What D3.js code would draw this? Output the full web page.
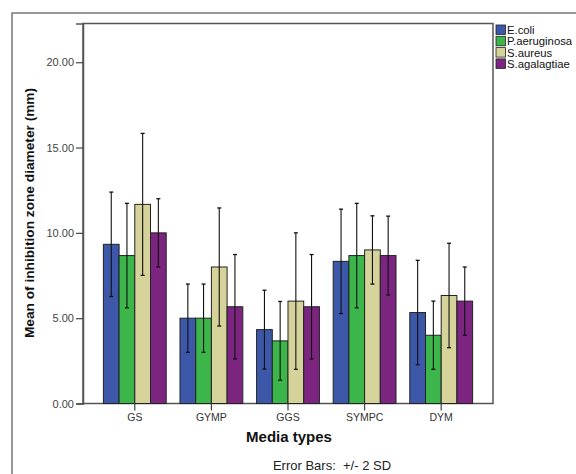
<!DOCTYPE html>
<html>
<head>
<meta charset="utf-8">
<script src="https://cdn.jsdelivr.net/npm/d3@7"></script>
<style>
html,body{margin:0;padding:0;background:#fff;}
svg{display:block;font-family:"Liberation Sans",Arial,sans-serif;}
</style>
</head>
<body>
<svg id="chart" width="576" height="474"></svg>
<script>
const categories = ["GS", "GYMP", "GGS", "SYMPC", "DYM"];
const seriesNames = ["E.coli", "P.aeruginosa", "S.aureus", "S.agalagtiae"];
const seriesColors = ["#3d58a9", "#3cb54a", "#d5d39a", "#7b2580"];
// means per series (in category order)
const ecoli = [9.33, 5.00, 4.33, 8.33, 5.33];
const paeruginosa = [8.67, 5.00, 3.67, 8.67, 4.00];
const saureus = [11.67, 8.00, 6.00, 9.00, 6.33];
const sagalagtiae = [10.00, 5.67, 5.67, 8.67, 6.00];
// 2 SD half-widths of error bars
const ecoli2sd = [3.06, 2.00, 2.31, 3.06, 3.06];
const paeruginosa2sd = [3.06, 2.00, 2.31, 3.06, 2.00];
const saureus2sd = [4.16, 3.46, 4.00, 2.00, 3.06];
const sagalagtiae2sd = [2.00, 3.06, 3.06, 2.31, 2.00];
const yTicks = [0, 5, 10, 15, 20];

const means = [ecoli, paeruginosa, saureus, sagalagtiae];
const errs = [ecoli2sd, paeruginosa2sd, saureus2sd, sagalagtiae2sd];

const svg = d3.select("#chart");
const plot = {left: 83, right: 493, top: 23.5, bottom: 403.5};

// outer frame
svg.append("rect").attr("x", 12).attr("y", 13).attr("width", 600).attr("height", 500)
  .attr("fill", "none").attr("stroke", "#777").attr("stroke-width", 1.5);

const y = d3.scaleLinear().domain([0, 22.27]).range([plot.bottom, plot.top]);
const x0 = d3.scaleBand().domain(categories).range([96.5, 479.5]).paddingInner(0.18).paddingOuter(0.09);
const x1 = d3.scaleBand().domain(seriesNames).range([0, x0.bandwidth()]);

// plot frame
svg.append("rect").attr("x", plot.left).attr("y", plot.top)
  .attr("width", plot.right - plot.left).attr("height", plot.bottom - plot.top)
  .attr("fill", "#fff").attr("stroke", "#555").attr("stroke-width", 1.5);

const rows = [];
categories.forEach((c, ci) => {
  seriesNames.forEach((s, si) => {
    rows.push({cat: c, ser: s, si: si, v: means[si][ci], e: errs[si][ci]});
  });
});

const g = svg.append("g");
g.selectAll("rect.bar").data(rows).enter().append("rect")
  .attr("class", "bar")
  .attr("x", d => x0(d.cat) + x1(d.ser))
  .attr("y", d => y(d.v))
  .attr("width", x1.bandwidth())
  .attr("height", d => y(0) - y(d.v))
  .attr("fill", d => seriesColors[d.si])
  .attr("stroke", "#222").attr("stroke-width", 1);

// error bars
const eb = g.selectAll("g.err").data(rows).enter().append("g").attr("class", "err")
  .attr("transform", d => `translate(${x0(d.cat) + x1(d.ser) + x1.bandwidth() / 2},0)`);
eb.append("line").attr("x1", 0).attr("x2", 0)
  .attr("y1", d => y(d.v + d.e)).attr("y2", d => y(d.v - d.e))
  .attr("stroke", "#111").attr("stroke-width", 1.1);
eb.append("line").attr("x1", -2).attr("x2", 2)
  .attr("y1", d => y(d.v + d.e)).attr("y2", d => y(d.v + d.e))
  .attr("stroke", "#111").attr("stroke-width", 1.3);
eb.append("line").attr("x1", -2).attr("x2", 2)
  .attr("y1", d => y(d.v - d.e)).attr("y2", d => y(d.v - d.e))
  .attr("stroke", "#111").attr("stroke-width", 1.3);

// y axis
const yAxis = d3.axisLeft(y).tickValues(yTicks).tickFormat(d3.format(".2f")).tickSize(7).tickPadding(2);
const ya = svg.append("g").attr("transform", `translate(${plot.left},0)`).call(yAxis);
ya.select(".domain").attr("stroke", "#555").attr("stroke-width", 1.5);
ya.selectAll(".tick line").attr("stroke", "#444").attr("stroke-width", 1.2);
ya.selectAll(".tick text").attr("fill", "#444").style("font-size", "11px")
  .style("font-family", "'Liberation Sans',Arial,sans-serif");

// x axis
const xAxis = d3.axisBottom(x0).tickSize(7).tickPadding(3);
const xa = svg.append("g").attr("transform", `translate(0,${plot.bottom})`).call(xAxis);
xa.select(".domain").remove();
xa.selectAll(".tick line").attr("stroke", "#444").attr("stroke-width", 1.2);
xa.selectAll(".tick text").attr("fill", "#333").style("font-size", "10.5px")
  .style("font-family", "'Liberation Sans',Arial,sans-serif");

// axis titles
svg.append("text").attr("x", 289).attr("y", 442).attr("text-anchor", "middle")
  .style("font-weight", "bold").style("font-size", "15px").attr("fill", "#111")
  .text("Media types");
svg.append("text").attr("transform", "translate(33.5,213) rotate(-90)").attr("text-anchor", "middle")
  .style("font-weight", "bold").style("font-size", "13.7px").attr("fill", "#111")
  .text("Mean of inhibition zone diameter (mm)");
svg.append("text").attr("x", 332).attr("y", 470).attr("text-anchor", "middle")
  .style("font-size", "13px").attr("fill", "#222")
  .attr("xml:space", "preserve")
  .text("Error Bars:  +/- 2 SD");

// legend
const lg = svg.append("g").attr("transform", "translate(496,25)");
const li = lg.selectAll("g").data(seriesNames).enter().append("g")
  .attr("transform", (d, i) => `translate(0,${i * 11.3})`);
li.append("rect").attr("width", 9.5).attr("height", 9.5)
  .attr("fill", (d, i) => seriesColors[i]).attr("stroke", "#222").attr("stroke-width", 0.8);
li.append("text").attr("x", 11).attr("y", 9).style("font-size", "11.3px").attr("fill", "#111")
  .text(d => d);
</script>
</body>
</html>
